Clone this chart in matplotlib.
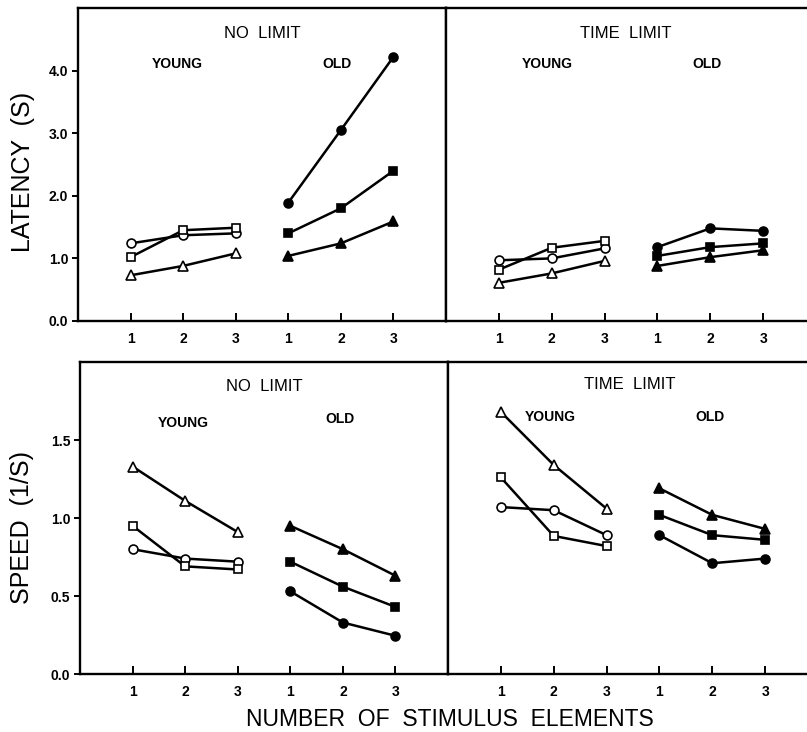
import matplotlib
matplotlib.use("Agg")
import matplotlib.pyplot as plt

plt.rcParams['font.family'] = ['Liberation Sans', 'DejaVu Sans']

# x positions: young group at 1-3, old group at 4-6
young_x = [1, 2, 3]
old_x = [4, 5, 6]
tick_labels = ['1', '2', '3', '1', '2', '3']

# latency (s) - no limit
lat_nl_young_circle = [1.24, 1.37, 1.40]
lat_nl_young_square = [1.02, 1.45, 1.49]
lat_nl_young_tri = [0.73, 0.88, 1.08]
lat_nl_old_circle = [1.89, 3.05, 4.22]
lat_nl_old_square = [1.40, 1.80, 2.40]
lat_nl_old_tri = [1.04, 1.24, 1.59]

# latency (s) - time limit
lat_tl_young_circle = [0.97, 1.00, 1.16]
lat_tl_young_square = [0.82, 1.17, 1.28]
lat_tl_young_tri = [0.61, 0.76, 0.96]
lat_tl_old_circle = [1.18, 1.48, 1.44]
lat_tl_old_square = [1.04, 1.18, 1.24]
lat_tl_old_tri = [0.88, 1.02, 1.13]

# speed (1/s) - no limit
spd_nl_young_circle = [0.80, 0.74, 0.72]
spd_nl_young_square = [0.95, 0.69, 0.67]
spd_nl_young_tri = [1.33, 1.11, 0.91]
spd_nl_old_circle = [0.53, 0.33, 0.245]
spd_nl_old_square = [0.72, 0.56, 0.43]
spd_nl_old_tri = [0.95, 0.80, 0.63]

# speed (1/s) - time limit
spd_tl_young_circle = [1.07, 1.05, 0.89]
spd_tl_young_square = [1.26, 0.885, 0.82]
spd_tl_young_tri = [1.68, 1.34, 1.06]
spd_tl_old_circle = [0.89, 0.71, 0.74]
spd_tl_old_square = [1.02, 0.89, 0.86]
spd_tl_old_tri = [1.19, 1.02, 0.93]


def draw_group(ax, xs, circle, square, tri, filled):
    face = 'black' if filled else 'white'
    for vals, mk, ms in [(circle, 'o', 6.4), (square, 's', 6.0), (tri, '^', 6.8)]:
        ax.plot(xs, vals, color='black', lw=1.8, marker=mk, ms=ms,
                mfc=face, mec='black', mew=1.2, zorder=3)


def setup_axes(ax, ymax, yticks, left_panel):
    ax.set_xlim(0, 7)
    ax.set_ylim(0, ymax)
    ax.set_xticks(range(1, 7))
    ax.set_xticklabels(tick_labels, fontsize=10, fontweight='bold')
    ax.tick_params(axis='x', direction='in', length=6, width=1.4, pad=8)
    for s in ax.spines.values():
        s.set_linewidth(1.7)
    ax.set_yticks(yticks)
    if left_panel:
        ax.set_yticklabels(['%.1f' % v for v in yticks], fontsize=10, fontweight='bold')
        ax.tick_params(axis='y', direction='out', length=4, width=1.4, pad=3)
    else:
        ax.tick_params(axis='y', left=False, labelleft=False, right=True,
                       direction='in', length=6, width=1.4)


fig = plt.figure(figsize=(8.07, 7.32), dpi=100)
W, H = 807.0, 732.0

ax_tl = fig.add_axes([78 / W, 1 - 321 / H, (446 - 78) / W, (321 - 8) / H])
ax_tr = fig.add_axes([446 / W, 1 - 321 / H, 370 / W, (321 - 8) / H])
ax_bl = fig.add_axes([80 / W, 1 - 674 / H, (448 - 80) / W, (674 - 362) / H])
ax_br = fig.add_axes([448 / W, 1 - 674 / H, 370 / W, (674 - 362) / H])

lat_ticks = [0.0, 1.0, 2.0, 3.0, 4.0]
spd_ticks = [0.0, 0.5, 1.0, 1.5]

setup_axes(ax_tl, 5.0, lat_ticks, True)
setup_axes(ax_tr, 5.0, lat_ticks, False)
setup_axes(ax_bl, 2.0, spd_ticks, True)
setup_axes(ax_br, 2.0, spd_ticks, False)

draw_group(ax_tl, young_x, lat_nl_young_circle, lat_nl_young_square, lat_nl_young_tri, False)
draw_group(ax_tl, old_x, lat_nl_old_circle, lat_nl_old_square, lat_nl_old_tri, True)
draw_group(ax_tr, young_x, lat_tl_young_circle, lat_tl_young_square, lat_tl_young_tri, False)
draw_group(ax_tr, old_x, lat_tl_old_circle, lat_tl_old_square, lat_tl_old_tri, True)
draw_group(ax_bl, young_x, spd_nl_young_circle, spd_nl_young_square, spd_nl_young_tri, False)
draw_group(ax_bl, old_x, spd_nl_old_circle, spd_nl_old_square, spd_nl_old_tri, True)
draw_group(ax_br, young_x, spd_tl_young_circle, spd_tl_young_square, spd_tl_young_tri, False)
draw_group(ax_br, old_x, spd_tl_old_circle, spd_tl_old_square, spd_tl_old_tri, True)

# panel annotations
ax_tl.text(3.5, 4.59, 'NO  LIMIT', ha='center', va='center', fontsize=12)
ax_tl.text(1.88, 4.1, 'YOUNG', ha='center', va='center', fontsize=10, fontweight='bold')
ax_tl.text(4.92, 4.1, 'OLD', ha='center', va='center', fontsize=10, fontweight='bold')
ax_tr.text(3.41, 4.6, 'TIME  LIMIT', ha='center', va='center', fontsize=12)
ax_tr.text(1.92, 4.1, 'YOUNG', ha='center', va='center', fontsize=10, fontweight='bold')
ax_tr.text(4.93, 4.1, 'OLD', ha='center', va='center', fontsize=10, fontweight='bold')

ax_bl.text(3.51, 1.845, 'NO  LIMIT', ha='center', va='center', fontsize=12)
ax_bl.text(1.96, 1.61, 'YOUNG', ha='center', va='center', fontsize=10, fontweight='bold')
ax_bl.text(4.95, 1.635, 'OLD', ha='center', va='center', fontsize=10, fontweight='bold')
ax_br.text(3.44, 1.855, 'TIME  LIMIT', ha='center', va='center', fontsize=12)
ax_br.text(1.94, 1.65, 'YOUNG', ha='center', va='center', fontsize=10, fontweight='bold')
ax_br.text(4.95, 1.65, 'OLD', ha='center', va='center', fontsize=10, fontweight='bold')

# axis titles
fig.text(23 / W, 1 - 172 / H, 'LATENCY  (S)', rotation=90, ha='center', va='center', fontsize=18)
fig.text(22 / W, 1 - 527 / H, 'SPEED  (1/S)', rotation=90, ha='center', va='center', fontsize=18)
fig.text(450 / W, 1 - 719 / H, 'NUMBER  OF  STIMULUS  ELEMENTS', ha='center', va='center', fontsize=16.5)

fig.savefig('out.png', dpi=100)
